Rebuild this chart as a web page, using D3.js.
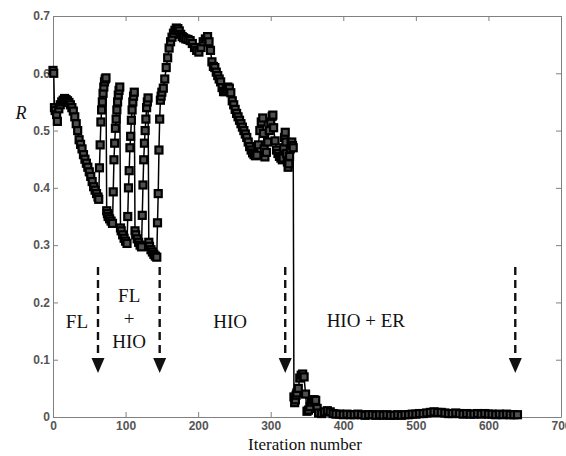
<!DOCTYPE html>
<html>
<head>
<meta charset="utf-8">
<script src="https://cdn.jsdelivr.net/npm/d3@7"></script>
<style>
  body { margin: 0; background: #fff; }
  .axis path, .axis line { stroke: #808080; stroke-width: 1; }
  .axis text { font-family: "Liberation Sans", Arial, sans-serif; font-size: 12px; font-weight: bold; fill: #555; }
  .label { font-family: "Liberation Serif", "Times New Roman", serif; fill: #111; }
</style>
</head>
<body>
<div id="chart"></div>
<script>
// tick labels
const xTicks = [0, 100, 200, 300, 400, 500, 600, 700];
const yTicks = [0, 0.1, 0.2, 0.3, 0.4, 0.5, 0.6, 0.7];

// R per iteration, [iteration, R], one array per reconstruction stage
const flPhase = [
  [0,.605],[1,.600],[2,.540],[3,.535],[5,.528],[6,.516],[8,.538],[10,.545],[12,.550],[14,.553],
  [16,.556],[18,.554],[20,.552],[22,.549],[24,.545],[26,.540],[28,.534],[30,.524],[32,.512],[34,.500],
  [36,.484],[38,.476],[40,.468],[42,.458],[44,.450],[46,.443],[48,.436],[50,.428],[52,.420],[54,.411],
  [56,.402],[58,.396],[60,.390],[62,.384],[63,.380]
];
const flHioPhase = [
  [64,.435],[65,.475],[66,.515],[67,.536],[68,.550],[69,.565],[70,.576],[71,.585],[72,.590],[73,.592],
  [74,.360],[75,.355],[76,.350],[78,.346],[80,.342],[82,.338],
  [83,.393],[84,.449],[85,.478],[86,.504],[87,.520],[88,.536],[89,.550],[90,.562],[91,.570],[92,.576],
  [93,.330],[94,.325],[96,.318],[98,.312],[100,.307],[102,.303],
  [103,.350],[104,.400],[105,.430],[106,.470],[107,.490],[108,.518],[109,.536],[110,.550],[111,.560],[112,.567],
  [113,.325],[114,.318],[116,.311],[118,.305],[120,.300],[122,.297],
  [123,.352],[124,.405],[125,.449],[126,.478],[127,.500],[128,.520],[129,.540],[130,.550],[131,.557],
  [132,.305],[133,.298],[135,.292],[137,.288],[139,.284],[141,.281],[143,.279]
];
const hioPhase = [
  [144,.339],[145,.390],[146,.466],[147,.520],[148,.553],[149,.560],[150,.567],[152,.574],[154,.590],[156,.610],
  [158,.627],[160,.644],[162,.655],[164,.663],[166,.670],[168,.675],[170,.679],[172,.678],[174,.674],[176,.668],
  [178,.664],[180,.662],[183,.660],[186,.659],[189,.657],[192,.652],[195,.645],[198,.640],[201,.637],[204,.645],
  [207,.655],[210,.660],[213,.664],[215,.655],[217,.640],[219,.620],[221,.612],[223,.610],[225,.602],[227,.596],
  [229,.590],[231,.585],[233,.575],[235,.568],[237,.568],[239,.572],[241,.576],[243,.574],[245,.566],[247,.552],
  [249,.545],[251,.537],[253,.530],[255,.524],[257,.518],[259,.512],[261,.506],[263,.500],[265,.494],[267,.488],
  [269,.480],[271,.472],[273,.466],[275,.461],[277,.458],[279,.456],[281,.457],
  [283,.475],[285,.500],[287,.515],[289,.522],[290,.495],[291,.468],[292,.454],[294,.462],[296,.480],[298,.500],
  [300,.515],[302,.525],[303,.527],[304,.505],[306,.482],[308,.466],[310,.460],[312,.455],[314,.452],[316,.449],
  [317,.452],[318,.470],[319,.488],[320,.497],[321,.480],[322,.460],[323,.445],[324,.436],[325,.442],[326,.455],
  [327,.468],[328,.476],[329,.480],[330,.474],[331,.470]
];
const hioErPhase = [
  [332,.035],[333,.025],[334,.030],[335,.038],[336,.042],[338,.050],[340,.068],[342,.073],[344,.075],[346,.070],
  [348,.040],[350,.010],[352,.012],[354,.018],[356,.026],[358,.030],[360,.030],[362,.029],[364,.015],[366,.007],
  [370,.006],[374,.009],[378,.011],[382,.009],[386,.006],[390,.005],
  [395,.005],[400,.004],[405,.005],[410,.004],[415,.004],[420,.005],[425,.004],[430,.003],[435,.004],[440,.004],
  [445,.003],[450,.004],[455,.003],[460,.004],[465,.003],[470,.003],[475,.004],[480,.003],[485,.004],[490,.004],
  [495,.005],[500,.005],[505,.006],[510,.006],[515,.007],[520,.008],[525,.009],[530,.008],[535,.008],[540,.007],
  [545,.006],[550,.006],[555,.007],[560,.006],[565,.005],[570,.006],[575,.005],[580,.005],[585,.006],[590,.005],
  [595,.006],[600,.005],[605,.005],[610,.004],[615,.005],[620,.004],[625,.005],[630,.004],[635,.004],[640,.004]
];

// iterations where the algorithm switches (dashed arrows)
const switchPoints = [62, 147, 320, 637];

// stage names
const stageLabels = [
  { lines: ["FL"], at: [33, 0.155] },
  { lines: ["FL", "+", "HIO"], at: [105, 0.2] },
  { lines: ["HIO"], at: [244, 0.155] },
  { lines: ["HIO + ER"], at: [431, 0.157] }
];

const series = [].concat(flPhase, flHioPhase, hioPhase, hioErPhase);

const margin = { top: 16, right: 5, bottom: 39, left: 53 };
const width = 566 - margin.left - margin.right;
const height = 456 - margin.top - margin.bottom;

const svg = d3.select("#chart")
  .append("svg")
  .attr("width", 566)
  .attr("height", 456)
  .style("background", "#fff");

const g = svg.append("g")
  .attr("transform", "translate(" + margin.left + "," + margin.top + ")");

const xScale = d3.scaleLinear().domain([0, 700]).range([0, width]);
const yScale = d3.scaleLinear().domain([0, 0.7]).range([height, 0]);

const yFormat = d => d === 0 ? "0" : d.toFixed(1);

// box axes, ticks pointing inward
g.append("g").attr("class", "axis")
  .attr("transform", "translate(0," + height + ")")
  .call(d3.axisBottom(xScale).tickValues(xTicks).tickSizeInner(-5).tickSizeOuter(0).tickPadding(4));
g.append("g").attr("class", "axis")
  .call(d3.axisLeft(yScale).tickValues(yTicks).tickFormat(yFormat).tickSizeInner(-5).tickSizeOuter(0).tickPadding(3));
g.append("g").attr("class", "axis")
  .call(d3.axisTop(xScale).tickValues(xTicks).tickFormat("").tickSizeInner(-5).tickSizeOuter(0));
g.append("g").attr("class", "axis")
  .attr("transform", "translate(" + width + ",0)")
  .call(d3.axisRight(yScale).tickValues(yTicks).tickFormat("").tickSizeInner(-5).tickSizeOuter(0));

// the curve
const line = d3.line()
  .x(d => xScale(d[0]))
  .y(d => yScale(d[1]));

g.append("path")
  .datum(series)
  .attr("fill", "none")
  .attr("stroke", "#000")
  .attr("stroke-width", 1.5)
  .attr("d", line);

const ms = 7;
g.append("g")
  .selectAll("rect")
  .data(series)
  .enter()
  .append("rect")
  .attr("x", d => xScale(d[0]) - ms / 2)
  .attr("y", d => yScale(d[1]) - ms / 2)
  .attr("width", ms)
  .attr("height", ms)
  .attr("fill", "#505050")
  .attr("stroke", "#000")
  .attr("stroke-width", 2.2);

// dashed arrows
const arrows = g.append("g");
switchPoints.forEach(it => {
  const ax = xScale(it);
  arrows.append("line")
    .attr("x1", ax).attr("x2", ax)
    .attr("y1", yScale(0.262)).attr("y2", yScale(0.104))
    .attr("stroke", "#111")
    .attr("stroke-width", 2.4)
    .attr("stroke-dasharray", "8,5");
  arrows.append("path")
    .attr("d", "M" + (ax - 6.5) + "," + yScale(0.103) +
               "L" + (ax + 6.5) + "," + yScale(0.103) +
               "L" + ax + "," + yScale(0.077) + "Z")
    .attr("fill", "#111");
});

// stage names
stageLabels.forEach(s => {
  const t = g.append("text")
    .attr("class", "label")
    .attr("x", xScale(s.at[0]))
    .attr("y", yScale(s.at[1]))
    .attr("text-anchor", "middle")
    .attr("font-size", "19px");
  s.lines.forEach((txt, i) => {
    t.append("tspan")
      .attr("x", xScale(s.at[0]))
      .attr("dy", i === 0 ? 0 : "1.2em")
      .text(txt);
  });
});

// axis titles
svg.append("text")
  .attr("class", "label")
  .attr("x", margin.left + width / 2 - 2)
  .attr("y", 450)
  .attr("text-anchor", "middle")
  .attr("font-size", "17px")
  .text("Iteration number");

svg.append("text")
  .attr("class", "label")
  .attr("x", 21)
  .attr("y", 119)
  .attr("text-anchor", "middle")
  .attr("font-size", "18px")
  .attr("font-style", "italic")
  .text("R");
</script>
</body>
</html>
